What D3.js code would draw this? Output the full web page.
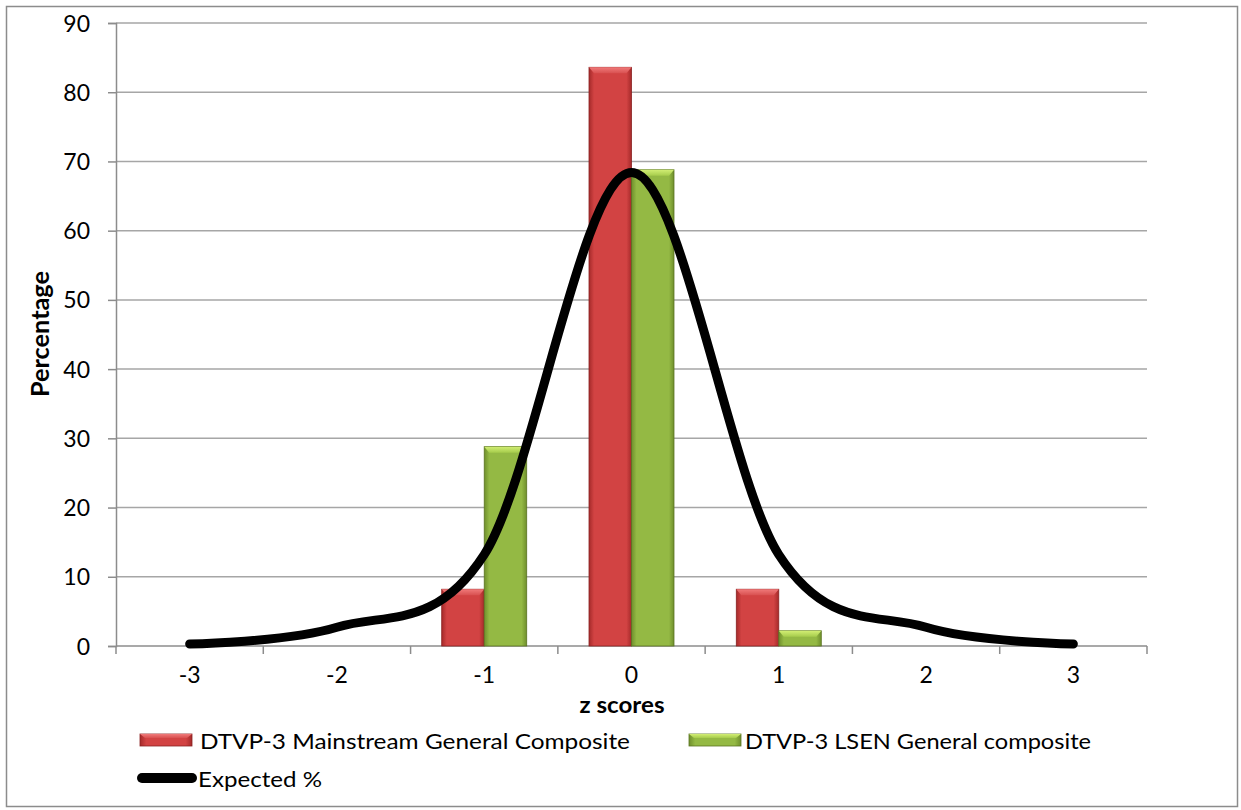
<!DOCTYPE html>
<html><head><meta charset="utf-8">
<script src="https://cdn.jsdelivr.net/npm/d3@7"></script>
<style>body{margin:0;background:#fff}svg{display:block;font-family:Lato,"Open Sans",sans-serif}</style>
</head><body>
<svg id="c" width="1241" height="810"></svg>
<script>
const categories = ["-3","-2","-1","0","1","2","3"];
const mainstream = [0, 0, 8.2, 83.6, 8.2, 0, 0];
const lsen = [0, 0, 28.8, 68.8, 2.2, 0, 0];
const expected = [0.3, 2.7, 13.2, 68.4, 13.2, 2.7, 0.3];
const yTicks = [0,10,20,30,40,50,60,70,80,90];
const seriesNames = ["DTVP-3 Mainstream General Composite","DTVP-3 LSEN General composite","Expected %"];

const svg = d3.select("#c");
const L = 116, R = 1147, T = 23, B = 646;
const x = d3.scaleBand().domain(categories).range([L, R]);
const y = d3.scaleLinear().domain([0, 90]).range([B, T]);
const barW = 42.5;

// outer border
svg.append("rect").attr("x",6.5).attr("y",6.5).attr("width",1231).attr("height",800)
  .attr("fill","none").attr("stroke","#8c8c8c").attr("stroke-width",1.5);

const defs = svg.append("defs");
function grad(id, edge, mid) {
  const g = defs.append("linearGradient").attr("id", id).attr("x1","0").attr("x2","1").attr("y1","0").attr("y2","0");
  g.append("stop").attr("offset","0").attr("stop-color", edge);
  g.append("stop").attr("offset","0.12").attr("stop-color", mid);
  g.append("stop").attr("offset","0.88").attr("stop-color", mid);
  g.append("stop").attr("offset","1").attr("stop-color", edge);
}
grad("gRed", "#a52a2a", "#d24343");
grad("gGreen", "#6f8f2c", "#94b944");
function vgrad(id, top, bot) {
  const g = defs.append("linearGradient").attr("id", id).attr("x1","0").attr("x2","0").attr("y1","0").attr("y2","1");
  g.append("stop").attr("offset","0").attr("stop-color", top);
  g.append("stop").attr("offset","1").attr("stop-color", bot);
}
vgrad("tRed", "#f07a7a", "#d85050");
vgrad("tGreen", "#d2ee74", "#a6cc4c");

// gridlines
svg.append("g").selectAll("line").data(yTicks.slice(1)).join("line")
  .attr("x1", L).attr("x2", R).attr("y1", d => y(d)).attr("y2", d => y(d))
  .attr("stroke", "#a6a6a6").attr("stroke-width", 1.5);

// y axis
const yAxis = svg.append("g").attr("transform", `translate(${L},0)`)
  .call(d3.axisLeft(y).tickValues(yTicks).tickSize(8).tickPadding(18));
yAxis.select(".domain").attr("stroke","#8c8c8c").attr("stroke-width",1.5);
yAxis.selectAll(".tick line").attr("stroke","#8c8c8c").attr("stroke-width",1.5);
yAxis.selectAll(".tick text").attr("font-size",23).attr("font-family","Lato").attr("fill","#000").attr("dy","0.35em");

// x axis
const xAxis = svg.append("g").attr("transform", `translate(0,${B})`)
  .call(d3.axisBottom(x).tickSize(0).tickPadding(21));
xAxis.select(".domain").attr("stroke","#8c8c8c").attr("stroke-width",1.5).attr("d", `M${L},0H${R}`);
xAxis.selectAll(".tick text").attr("font-size",23).attr("font-family","Lato").attr("fill","#000");
const bounds = categories.map(c => x(c)).concat([R]);
svg.append("g").selectAll("line").data(bounds).join("line")
  .attr("x1", d => d).attr("x2", d => d).attr("y1", B).attr("y2", B + 8)
  .attr("stroke","#8c8c8c").attr("stroke-width",1.5);

// bars
function drawBars(vals, offset, fillId, topId, stroke) {
  const g = svg.append("g");
  vals.forEach((v, i) => {
    if (v <= 0) return;
    const cx = x(categories[i]) + x.bandwidth() / 2;
    const x0 = cx + offset, x1 = x0 + barW, y0 = y(v), y1 = y(0);
    g.append("rect").attr("x", x0).attr("y", y0).attr("width", barW).attr("height", y1 - y0)
      .attr("fill", `url(#${fillId})`).attr("stroke", stroke).attr("stroke-width", 0.8);
    const bev = Math.min(6, (y1 - y0) / 2);
    g.append("polygon")
      .attr("points", [[x0, y0], [x1, y0], [x1 - 5, y0 + bev], [x0 + 5, y0 + bev]].map(p => p.join(",")).join(" "))
      .attr("fill", `url(#${topId})`);
  });
}
drawBars(mainstream, -barW, "gRed", "tRed", "#8a2222");
drawBars(lsen, 0, "gGreen", "tGreen", "#5b7422");

// expected curve
const line = d3.line()
  .x((d, i) => x(categories[i]) + x.bandwidth() / 2)
  .y(d => y(d))
  .curve(d3.curveCardinal.tension(0));
svg.append("path").datum(expected).attr("d", line)
  .attr("fill","none").attr("stroke","#000").attr("stroke-width",9).attr("stroke-linecap","round").attr("stroke-linejoin","round");

// axis titles
svg.append("text").attr("x", 622).attr("y", 713).attr("text-anchor","middle")
  .attr("font-size",22).attr("font-weight","bold")
  .attr("textLength", 85).attr("lengthAdjust","spacingAndGlyphs").text("z scores");
svg.append("text").attr("transform","translate(49,334) rotate(-90)").attr("text-anchor","middle")
  .attr("font-size",24).attr("font-weight","bold")
  .attr("textLength", 126).attr("lengthAdjust","spacingAndGlyphs").text("Percentage");

// legend
const lg = svg.append("g");
function swatch(x0, y0, fillId, topId, stroke) {
  lg.append("rect").attr("x", x0).attr("y", y0).attr("width", 52).attr("height", 12)
    .attr("fill", `url(#${fillId})`).attr("stroke", stroke).attr("stroke-width", 0.8);
  lg.append("polygon").attr("points", `${x0},${y0} ${x0+52},${y0} ${x0+47},${y0+4} ${x0+5},${y0+4}`)
    .attr("fill", `url(#${topId})`);
}
swatch(140, 734, "gRed", "tRed", "#8a2222");
lg.append("text").attr("x", 200).attr("y", 749).attr("font-size", 22)
  .attr("textLength", 430).attr("lengthAdjust","spacingAndGlyphs").text(seriesNames[0]);
swatch(689, 734, "gGreen", "tGreen", "#5b7422");
lg.append("text").attr("x", 745).attr("y", 749).attr("font-size", 22)
  .attr("textLength", 346).attr("lengthAdjust","spacingAndGlyphs").text(seriesNames[1]);
lg.append("line").attr("x1", 142).attr("x2", 192).attr("y1", 778).attr("y2", 778)
  .attr("stroke","#000").attr("stroke-width",10).attr("stroke-linecap","round");
lg.append("text").attr("x", 198).attr("y", 787).attr("font-size", 22)
  .attr("textLength", 124).attr("lengthAdjust","spacingAndGlyphs").text(seriesNames[2]);
</script>
</body></html>
